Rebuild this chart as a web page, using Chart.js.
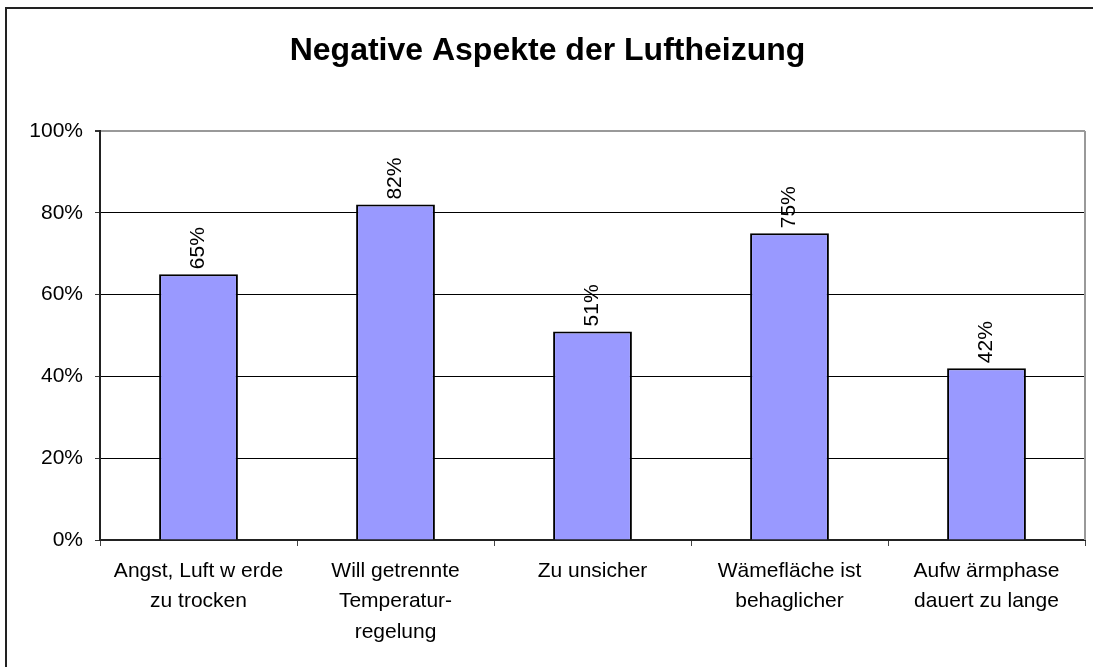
<!DOCTYPE html>
<html>
<head>
<meta charset="utf-8">
<script src="https://cdn.jsdelivr.net/npm/chart.js@4/dist/chart.umd.min.js"></script>
<style>
  html, body { margin: 0; padding: 0; background: #fff; }
  #wrap { position: relative; width: 1093px; height: 667px; overflow: hidden; }
  #frame { position: absolute; left: 5px; top: 7px; width: 1200px; height: 800px;
           border-left: 2px solid #222; border-top: 2px solid #222; box-sizing: border-box; }
  canvas { position: absolute; left: 0; top: 0; }
</style>
</head>
<body>
<div id="wrap">
  <div id="frame"></div>
  <canvas id="barChart" width="1093" height="667"></canvas>
</div>
<script>
// chart data
const categories = [
  ["Angst, Luft w erde", "zu trocken"],
  ["Will getrennte", "Temperatur-", "regelung"],
  ["Zu unsicher"],
  ["Wämefläche ist", "behaglicher"],
  ["Aufw ärmphase", "dauert zu lange"]
];
const shares = [65, 82, 51, 75, 42];
const yTicks = [0, 20, 40, 60, 80, 100];

const fontFamily = "'Liberation Sans', Arial, sans-serif";

// draws the rotated value labels on top of the bars
const valueLabels = {
  id: "valueLabels",
  afterDatasetsDraw(chart) {
    const ctx = chart.ctx;
    const meta = chart.getDatasetMeta(0);
    ctx.save();
    ctx.font = "21px " + fontFamily;
    ctx.fillStyle = "#000";
    ctx.textAlign = "left";
    ctx.textBaseline = "middle";
    meta.data.forEach((bar, i) => {
      ctx.save();
      ctx.translate(bar.x, bar.y - 5);
      ctx.rotate(-Math.PI / 2);
      ctx.fillText(shares[i] + "%", 0, 0);
      ctx.restore();
    });
    ctx.restore();
  }
};

// grey right edge of the plot area
const plotFrame = {
  id: "plotFrame",
  afterDraw(chart) {
    const { ctx, chartArea } = chart;
    ctx.save();
    ctx.strokeStyle = "#999";
    ctx.lineWidth = 2;
    ctx.beginPath();
    ctx.moveTo(chartArea.right, chartArea.top);
    ctx.lineTo(chartArea.right, chartArea.bottom);
    ctx.stroke();
    ctx.restore();
  }
};

const ctx = document.getElementById("barChart").getContext("2d");
const chart = new Chart(ctx, {
  type: "bar",
  data: {
    labels: categories,
    datasets: [
      {
        label: "Negative Aspekte",
        data: shares,
        backgroundColor: "#9999FF",
        borderColor: "#000",
        borderWidth: 2,
        categoryPercentage: 1,
        barPercentage: 0.4
      }
    ]
  },
  options: {
    responsive: false,
    animation: false,
    layout: { padding: { left: 10, right: 8, top: 0, bottom: 0 } },
    plugins: {
      legend: { display: false },
      tooltip: { enabled: false },
      title: {
        display: true,
        text: "Negative Aspekte der Luftheizung",
        color: "#000",
        font: { family: fontFamily, size: 32, weight: "bold", lineHeight: 1.2 },
        padding: { top: 32, bottom: 60.6 }
      }
    },
    scales: {
      x: {
        offset: true,
        border: { color: "#222", width: 2 },
        grid: {
          offset: true,
          drawOnChartArea: false,
          drawTicks: true,
          tickLength: 6,
          color: "#444"
        },
        ticks: {
          color: "#000",
          padding: 10,
          maxRotation: 0,
          font: { family: fontFamily, size: 21, lineHeight: 1.45 }
        },
        afterFit(scale) { scale.height = 127; }
      },
      y: {
        min: 0,
        max: 100,
        afterBuildTicks(scale) {
          scale.ticks = yTicks.map((v) => ({ value: v }));
        },
        border: { color: "#222", width: 2 },
        grid: {
          color: (c) => (c.tick && c.tick.value === 100 ? "#999" : "#000"),
          lineWidth: (c) => (c.tick && c.tick.value === 100 ? 2 : 1),
          tickColor: "#333",
          tickLength: 5
        },
        ticks: {
          color: "#000",
          padding: 12,
          font: { family: fontFamily, size: 21 },
          callback: (v) => v + "%"
        },
        afterFit(scale) { scale.width = 90; }
      }
    }
  },
  plugins: [valueLabels, plotFrame]
});
</script>
</body>
</html>
